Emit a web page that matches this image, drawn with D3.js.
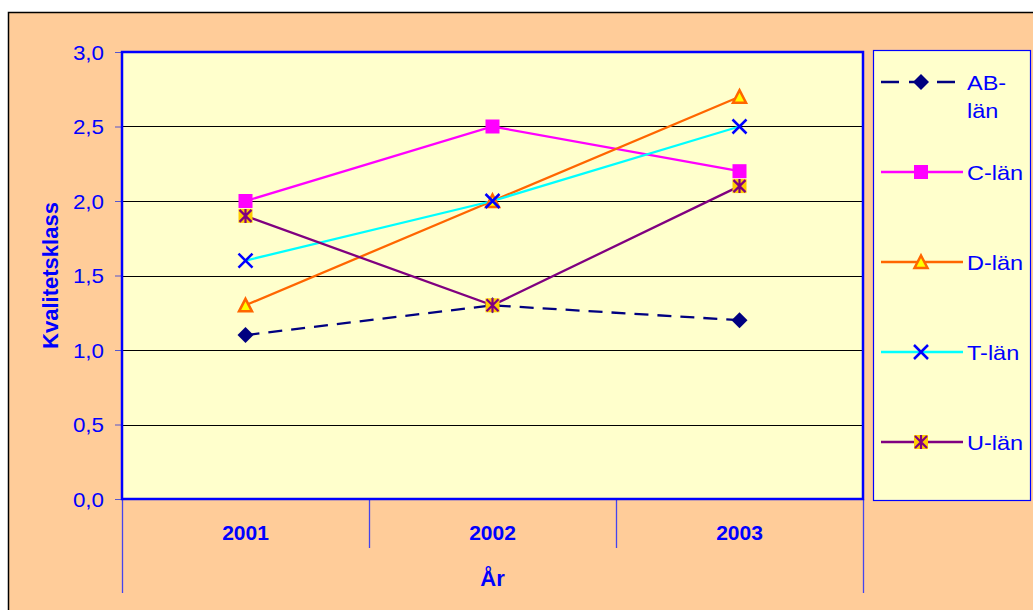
<!DOCTYPE html>
<html>
<head>
<meta charset="utf-8">
<script src="https://cdn.jsdelivr.net/npm/d3@7/dist/d3.min.js"></script>
<style>
  html, body { margin: 0; padding: 0; background: #ffffff; }
  svg { display: block; font-family: Arial, "Liberation Sans", sans-serif; }
</style>
</head>
<body>
<svg id="chart" width="1033" height="610"></svg>
<script>
// Kvalitetsklass per län och år
const years = ["2001", "2002", "2003"];
const abLan = [1.1, 1.3, 1.2];
const cLan  = [2.0, 2.5, 2.2];
const dLan  = [1.3, 2.0, 2.7];
const tLan  = [1.6, 2.0, 2.5];
const uLan  = [1.9, 1.3, 2.1];
const yTicks = [0, 0.5, 1.0, 1.5, 2.0, 2.5, 3.0];

const series = [
  { name: ["AB-", "län"], values: abLan, color: "#000080", dash: "14,9", marker: "diamond" },
  { name: ["C-län"], values: cLan, color: "#FF00FF", dash: null, marker: "square" },
  { name: ["D-län"], values: dLan, color: "#FF6600", dash: null, marker: "triangle" },
  { name: ["T-län"], values: tLan, color: "#00FFFF", dash: null, marker: "cross" },
  { name: ["U-län"], values: uLan, color: "#800080", dash: null, marker: "star" }
];

const svg = d3.select("#chart");
const blue = "#0000FF";
const FONT = "Arial, 'Liberation Sans', sans-serif";
const WIDEN = 1.12; // horizontal widening of the regular-weight labels

// chart area background
svg.append("rect").attr("x", 8.5).attr("y", 12.5).attr("width", 1040).attr("height", 620)
  .attr("fill", "#FFCC99").attr("stroke", "#000").attr("stroke-width", 1.5);

const plot = { left: 122, right: 863, top: 52, bottom: 499 };

const x = d3.scaleBand().domain(years).range([plot.left, plot.right]);
const y = d3.scaleLinear().domain([0, 3]).range([plot.bottom, plot.top]);

svg.append("rect").attr("x", plot.left).attr("y", plot.top)
  .attr("width", plot.right - plot.left).attr("height", plot.bottom - plot.top)
  .attr("fill", "#FFFFCC");

// horizontal gridlines
svg.append("g").selectAll("line").data(yTicks.filter(v => v > 0 && v < 3)).join("line")
  .attr("x1", plot.left).attr("x2", plot.right)
  .attr("y1", d => Math.round(y(d)) + 0.5).attr("y2", d => Math.round(y(d)) + 0.5)
  .attr("stroke", "#000").attr("stroke-width", 1);

// value axis
const yAxis = d3.axisLeft(y).tickValues(yTicks).tickSize(7)
  .tickFormat(d => d3.format(".1f")(d).replace(".", ","));
const gy = svg.append("g").attr("transform", `translate(${plot.left},0)`).call(yAxis);
gy.select(".domain").remove();
gy.selectAll(".tick line").attr("stroke", "#5555cc");
gy.selectAll(".tick text")
  .attr("fill", blue).attr("font-size", 20).attr("font-family", FONT)
  .attr("text-anchor", "end")
  .attr("x", -18 / WIDEN).attr("dy", "0.35em")
  .attr("transform", `scale(${WIDEN},1)`);

// category dividers
const edges = [plot.left, ...years.slice(1).map(d => x(d)), plot.right];
svg.append("g").selectAll("line").data(edges).join("line")
  .attr("x1", d => d + 0.5).attr("x2", d => d + 0.5)
  .attr("y1", plot.bottom)
  .attr("y2", (d, i) => (i === 0 || i === edges.length - 1) ? 593 : 548)
  .attr("stroke", "#4444ee").attr("stroke-width", 1.3);

// category labels
svg.append("g").selectAll("text").data(years).join("text")
  .attr("x", d => x(d) + x.bandwidth() / 2).attr("y", 540)
  .attr("text-anchor", "middle").attr("fill", blue)
  .attr("font-size", 21).attr("font-weight", "bold").text(d => d);

// axis titles
svg.append("text").attr("x", (plot.left + plot.right) / 2).attr("y", 586)
  .attr("text-anchor", "middle").attr("fill", blue).attr("font-size", 22)
  .attr("font-weight", "bold").text("År");
svg.append("text").attr("transform", `translate(58,${(plot.top + plot.bottom) / 2}) rotate(-90)`)
  .attr("text-anchor", "middle").attr("fill", blue).attr("font-size", 22)
  .attr("font-weight", "bold").text("Kvalitetsklass");

// plot border
svg.append("rect").attr("x", plot.left).attr("y", plot.top)
  .attr("width", plot.right - plot.left).attr("height", plot.bottom - plot.top)
  .attr("fill", "none").attr("stroke", blue).attr("stroke-width", 2.5);

function drawMarker(g, type) {
  if (type === "diamond") {
    g.append("path").attr("d", "M0,-8L8,0L0,8L-8,0Z").attr("fill", "#000080");
  } else if (type === "square") {
    g.append("rect").attr("x", -7).attr("y", -7).attr("width", 14).attr("height", 14).attr("fill", "#FF00FF");
  } else if (type === "triangle") {
    g.append("path").attr("d", "M0,-6.5L6.5,6L-6.5,6Z").attr("fill", "#FFFF00")
      .attr("stroke", "#FF6600").attr("stroke-width", 2.5).attr("stroke-linejoin", "miter");
  } else if (type === "cross") {
    g.append("path").attr("d", "M-7,-7L7,7M-7,7L7,-7").attr("stroke", blue).attr("stroke-width", 2.5);
  } else if (type === "star") {
    g.append("rect").attr("x", -7).attr("y", -7).attr("width", 14).attr("height", 14).attr("fill", "#FFCC00");
    g.append("path").attr("d", "M-6,-6L6,6M-6,6L6,-6M0,-7L0,7").attr("stroke", "#800080").attr("stroke-width", 2.2);
  }
}

const line = d3.line().x((d, i) => x(years[i]) + x.bandwidth() / 2).y(d => y(d));

const gLines = svg.append("g");
series.forEach(s => {
  gLines.append("path").datum(s.values).attr("d", line)
    .attr("fill", "none").attr("stroke", s.color).attr("stroke-width", 2.3)
    .attr("stroke-dasharray", s.dash);
});
series.forEach(s => {
  s.values.forEach((v, i) => {
    const g = svg.append("g")
      .attr("transform", `translate(${x(years[i]) + x.bandwidth() / 2},${y(v)})`);
    drawMarker(g, s.marker);
  });
});

// legend
const lg = svg.append("g");
lg.append("rect").attr("x", 873.5).attr("y", 50.5).attr("width", 157).attr("height", 450)
  .attr("fill", "#FFFFCC").attr("stroke", blue).attr("stroke-width", 1.2);
const legendY = [82, 172, 262, 352, 442];
series.forEach((s, i) => {
  const ly = legendY[i];
  lg.append("line").attr("x1", 881).attr("x2", 963).attr("y1", ly).attr("y2", ly)
    .attr("stroke", s.color).attr("stroke-width", 2.3)
    .attr("stroke-dasharray", s.dash ? "18,10" : null);
  drawMarker(lg.append("g").attr("transform", `translate(921,${ly})`), s.marker);
  s.name.forEach((t, k) => {
    lg.append("text")
      .attr("transform", `translate(967,${ly + 8 + k * 28}) scale(${WIDEN},1)`)
      .attr("fill", blue).attr("font-size", 21).text(t);
  });
});
</script>
</body>
</html>
